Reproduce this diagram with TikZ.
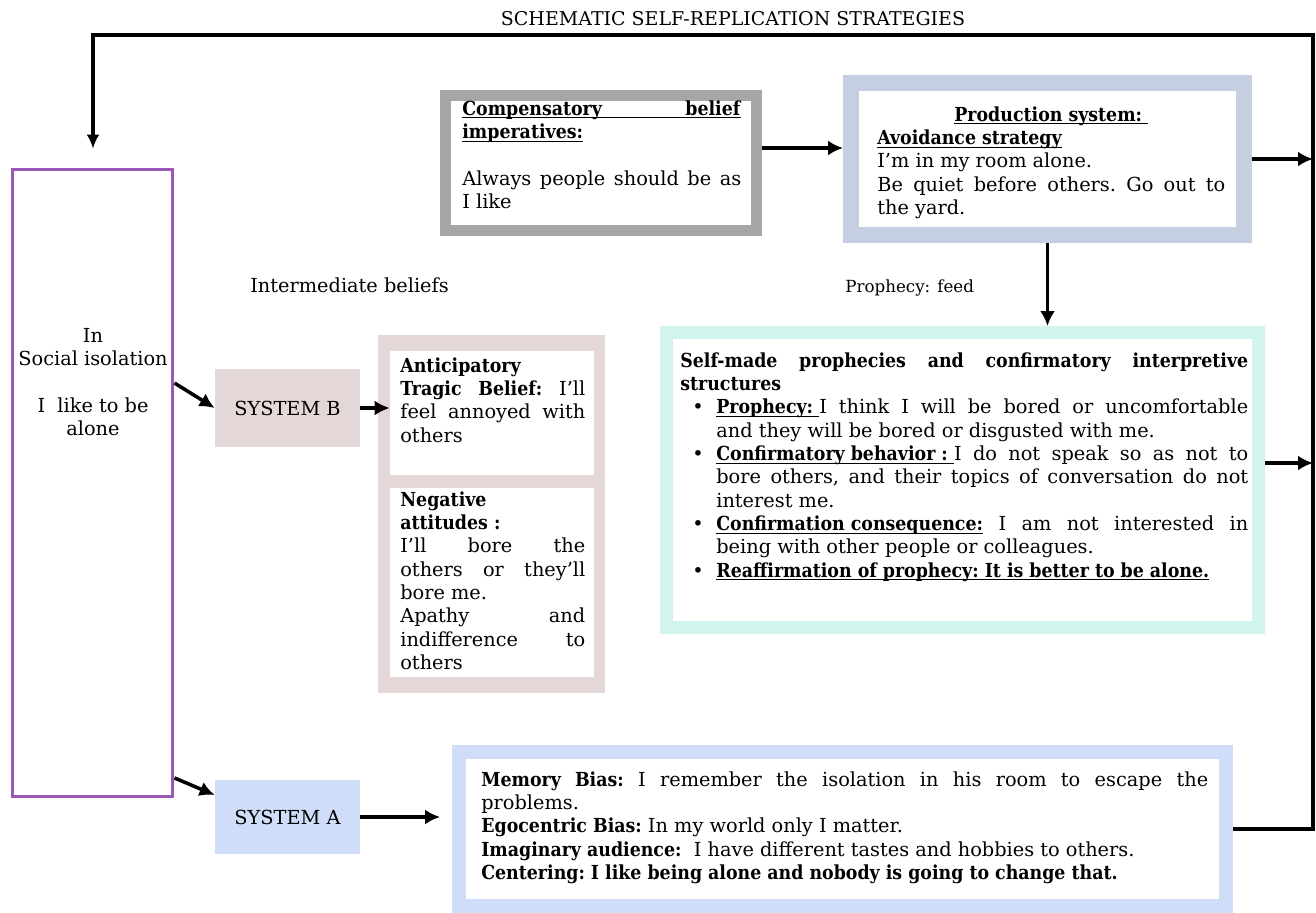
\documentclass[tikz,border=0pt]{standalone}
\usepackage{fontspec}
\IfFontExistsTF{DejaVu Serif Condensed Bold}%
  {\setmainfont{DejaVu Serif}[BoldFont={DejaVu Serif Condensed Bold}]}%
  {\setmainfont{DejaVu Serif}}
\usetikzlibrary{arrows.meta,calc}
\definecolor{cpurple}{HTML}{9B59B6}
\definecolor{cgray}{HTML}{A6A6A6}
\definecolor{cprod}{HTML}{C6CFE1}
\definecolor{ccyan}{HTML}{D3F3EE}
\definecolor{cpink}{HTML}{E4D7D7}
\definecolor{cblue}{HTML}{CFDDF8}
\newcommand\bodyfont{\fontsize{11}{13.3}\selectfont\frenchspacing}
\newcommand\bitem{\par\hangindent=0.72cm\hangafter=0\noindent\llap{\textbullet\hspace{0.25cm}}}
\newcommand\ulx[1]{\underline{\smash{#1}}\vphantom{#1}}
\tikzset{
  arr/.style={line width=2pt,-{Latex[length=0.3cm,width=0.3cm]}},
  loopline/.style={line width=2.2pt},
  txt/.style={inner sep=0pt, anchor=north west, align=justify, font=\bodyfont},
  plain/.style={inner sep=0pt, font=\bodyfont},
}
\begin{document}
\begin{tikzpicture}[x=0.02cm,y=-0.02cm]
\useasboundingbox (0,0) rectangle (1316,913);

% title
\node[plain, font=\fontsize{10.8}{12}\selectfont] (title) at (733,19) {SCHEMATIC SELF-REPLICATION STRATEGIES};

% left box
\node[draw=cpurple, line width=0.06cm, minimum width=3.22cm, minimum height=12.56cm, inner sep=0pt] (iso) at (92.5,483) {};
\node[plain, align=center, anchor=north] (isotxt) at (93,328) {In\\Social isolation\\[13.3pt]I\ \ like to be\\alone};

% systems
\node[plain, fill=cpink, minimum width=2.9cm, minimum height=1.56cm] (sysB) at (287.5,408) {SYSTEM B};
\node[plain, fill=cblue, minimum width=2.9cm, minimum height=1.48cm] (sysA) at (287.5,817) {SYSTEM A};

% intermediate beliefs
\node[plain, anchor=west] (interlbl) at (250,285) {Intermediate beliefs};
\node[fill=cpink, minimum width=4.54cm, minimum height=7.16cm, inner sep=0pt] (inter) at (491.5,514) {};
\node[fill=white, minimum width=4.08cm, minimum height=2.48cm, inner sep=0pt] (intA) at (492,413) {};
\node[fill=white, minimum width=4.08cm, minimum height=3.78cm, inner sep=0pt] (intB) at (492,582.5) {};
\node[txt, text width=3.7cm] (intAtxt) at (400,357) {\textbf{Anticipatory}\\\textbf{Tragic Belief:} I’ll\linebreak feel annoyed with\linebreak others};
\node[txt, text width=3.7cm] (intBtxt) at (400,491) {\textbf{Negative}\\\textbf{attitudes :}\\I’ll bore the\linebreak others or they’ll\linebreak bore me.\\Apathy and\linebreak indifference to\linebreak others};

% compensatory
\node[draw=cgray, line width=0.22cm, fill=white, minimum width=6.22cm, minimum height=2.7cm, inner sep=0pt] (comp) at (601,163) {};
\node[txt, text width=5.58cm] (comptxt) at (462,100) {\ulx{\makebox[\linewidth][s]{\textbf{Compensatory belief}}}\\\ulx{\textbf{imperatives:}}\\[13.3pt]Always people should be as\linebreak I like};

% production
\node[draw=cprod, line width=0.32cm, fill=white, minimum width=7.86cm, minimum height=3.04cm, inner sep=0pt] (prod) at (1047.5,159) {};
\node[txt, text width=6.96cm] (prodtxt) at (877,106) {\makebox[\linewidth]{\ulx{\textbf{Production system:}\ }}\\\ulx{\textbf{Avoidance strategy}}\\I’m in my room alone.\\Be quiet before others. Go out to\linebreak the yard.};

% prophecy label
\node[plain, anchor=west, font=\fontsize{9.5}{11}\selectfont] (feed) at (845,288) {Prophecy: feed};

% prophecies
\node[draw=ccyan, line width=0.26cm, fill=white, minimum width=11.84cm, minimum height=5.9cm, inner sep=0pt] (proph) at (962.5,480) {};
\node[txt, text width=11.36cm] (prophtxt) at (680,352) {\textbf{Self-made prophecies and confirmatory interpretive}\linebreak\textbf{structures}%
\bitem\ulx{\textbf{Prophecy:}\ }I think I will be bored or uncomfortable\linebreak and they will be bored or disgusted with me.%
\bitem\ulx{\textbf{Confirmatory behavior :}\ }I do not speak so as not to\linebreak bore others, and their topics of conversation do not\linebreak interest me.%
\bitem\ulx{\textbf{Confirmation consequence:}} I am not interested in\linebreak being with other people or colleagues.%
\bitem\ulx{\textbf{Reaffirmation of prophecy: It is better to be alone.}}\par};

% biases
\node[draw=cblue, line width=0.28cm, fill=white, minimum width=15.34cm, minimum height=3.08cm, inner sep=0pt] (bias) at (842.5,829) {};
\node[txt, text width=14.54cm] (biastxt) at (481,771) {\textbf{Memory Bias:} I remember the isolation in his room to escape the\linebreak problems.\\\textbf{Egocentric Bias:} In my world only I matter.\\\textbf{Imaginary audience:}\ \ I have different tastes and hobbies to others.\\\textbf{Centering: I like being alone and nobody is going to change that.}};

% loop coordinates
\coordinate (rtop) at (1313,35);
\coordinate (ltop) at (93,35);

% connectors
\draw[arr] ([yshift=0.3cm]comp.east) coordinate (c1) -- (c1 -| prod.west);
\draw[arr] (prod.east) -- (prod.east -| rtop);
\draw[arr] (prod.south) -- (prod.south |- proph.north);
\draw[arr] ([yshift=0.34cm]proph.east) coordinate (c2) -- (c2 -| rtop);
\draw[loopline, -{Latex[length=0.28cm,width=0.26cm]}, shorten >=0.38cm] (bias.east) -- (bias.east -| rtop) -- (rtop) -- (ltop) -- (ltop |- iso.north);
\draw[arr] ([yshift=2cm]iso.east) -- (sysB.west);
\draw[arr] ([yshift=-5.9cm]iso.east) -- ([yshift=0.44cm]sysA.west);
\draw[arr] (sysB.east) -- (sysB.east -| intA.west);
\draw[arr, shorten >=0.24cm] (sysA.east) -- (sysA.east -| bias.west);
\end{tikzpicture}
\end{document}
